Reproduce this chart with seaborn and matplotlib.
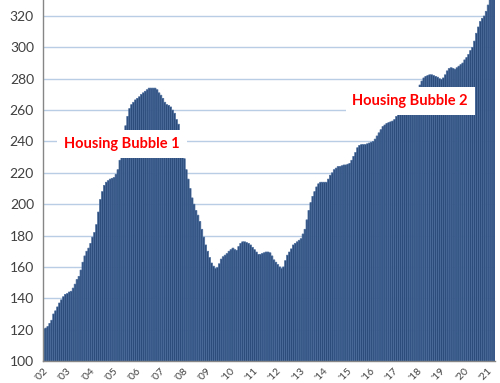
import matplotlib
matplotlib.use("Agg")
import matplotlib.pyplot as plt
import seaborn as sns
import numpy as np
import pandas as pd

years = list(range(2002, 2022))
year_labels = [f"'{y % 100:02d}" for y in years]

v2002 = [120.5, 121, 122, 124, 126, 130, 132, 134.5, 137, 139, 141, 142.5]
v2003 = [143, 144, 144.5, 146.5, 149, 152, 154, 158, 163, 167, 170, 172]
v2004 = [175, 179, 182, 187, 195, 203, 208, 212, 214, 215, 216, 216.5]
v2005 = [217, 219, 222, 228, 234, 240, 250, 256, 261, 263.5, 265, 266.5]
v2006 = [267.5, 268.5, 270, 271, 272, 273, 274, 274, 274, 274, 273, 271]
v2007 = [269.5, 267.5, 265, 263.5, 263, 262, 260, 258, 254, 251, 246, 238]
v2008 = [229, 222, 216, 210, 204, 200, 196, 193, 189, 184, 179, 174]
v2009 = [170, 166, 162.5, 160.5, 159, 159.5, 162, 165, 166.5, 167.5, 168.5, 170]
v2010 = [171, 172, 171, 170.5, 173, 175, 176, 176, 175.5, 175, 174, 172.5]
v2011 = [171, 169.5, 168, 168, 168.5, 169, 169.5, 169.5, 169, 167, 164.5, 163]
v2012 = [161.5, 160, 159, 160, 164, 167.5, 169.5, 171.5, 174, 175, 176, 177]
v2013 = [178, 181, 184, 190, 196, 201, 205, 208, 211, 213, 214, 214]
v2014 = [214, 214, 216, 218.5, 220, 222, 223, 224, 224, 224.5, 225, 225]
v2015 = [225.5, 226, 228, 230.5, 233, 236, 237.5, 238, 238, 238, 238.5, 239]
v2016 = [239.5, 240, 241.5, 243.5, 245.5, 247.5, 249.5, 250.5, 251.5, 252, 252.5, 253]
v2017 = [254, 256, 257.5, 259, 261, 263, 265, 266.5, 268, 269.5, 271, 272.5]
v2018 = [274, 276, 278.5, 280.5, 281.5, 282, 282.5, 282.5, 282, 281.5, 281, 280]
v2019 = [279.5, 280.5, 282.5, 285, 286.5, 287, 286.5, 286, 287, 288, 289, 290]
v2020 = [292, 293.5, 295.5, 298, 300, 304, 309, 313, 316.5, 318.5, 320, 323]
v2021 = [327, 333, 338, 343]

values = (v2002 + v2003 + v2004 + v2005 + v2006 + v2007 + v2008 + v2009 + v2010
          + v2011 + v2012 + v2013 + v2014 + v2015 + v2016 + v2017 + v2018
          + v2019 + v2020 + v2021)
months = pd.date_range("2002-01-01", periods=len(values), freq="MS").strftime("%Y-%m")

annotations = ["Housing Bubble 1", "Housing Bubble 2"]

df = pd.DataFrame({"month": months, "index": values})

sns.set_style("white")
plt.rcParams['font.family'] = ['Lato', 'DejaVu Sans']

fig = plt.figure(figsize=(5.0, 3.83), dpi=100)
ax = fig.add_axes([0.086, 0.0574, 0.904, 0.9426])

sns.barplot(data=df, x="month", y="index", color="#2c4d7c", width=1.0,
            edgecolor="#4a6c9c", linewidth=0.5, saturation=1, ax=ax)
for p in ax.patches:
    p.set_snap(False)

ax.set_ylim(100, 330.2)
ax.set_xlim(-0.5, len(values) - 0.5)
ax.set_yticks(np.arange(100, 321, 20))
ax.yaxis.grid(True, color="#b9cde5", linewidth=1.0)
ax.set_axisbelow(True)

tick_pos = [12 * k - 0.5 for k in range(len(years))]
ax.set_xticks(tick_pos)
ax.set_xticklabels(year_labels, rotation=45, ha="right", va="top",
                   rotation_mode="anchor")
ax.set_xlabel("")
ax.set_ylabel("")
ax.tick_params(axis="both", labelsize=10, colors="#404040", length=3,
               direction="out", width=0.8)
ax.tick_params(axis="x", pad=1, labelsize=7.5)
for s in ["top", "right"]:
    ax.spines[s].set_visible(False)
for s in ["left", "bottom"]:
    ax.spines[s].set_color("#868686")
    ax.spines[s].set_linewidth(1.0)

ax.text(40, 238.4, annotations[0], color="#ff0000", fontsize=10.5,
        fontweight="bold", ha="center", va="center",
        bbox=dict(facecolor="white", edgecolor="none", pad=5))
ax.text(188, 265.5, annotations[1], color="#ff0000", fontsize=10.5,
        fontweight="bold", ha="center", va="center",
        bbox=dict(facecolor="white", edgecolor="none", pad=5))

fig.savefig("out.png", dpi=100)
